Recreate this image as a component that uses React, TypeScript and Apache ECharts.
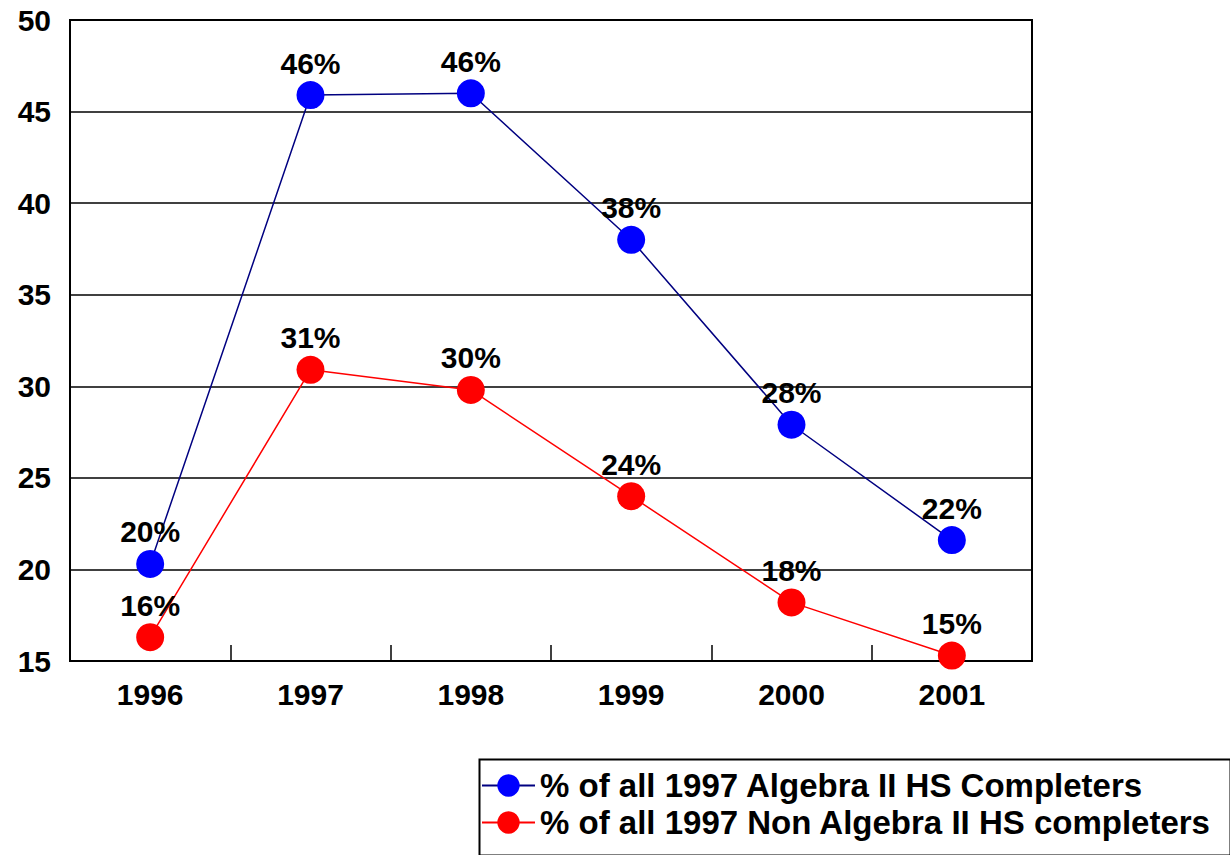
import React, { useEffect, useRef } from "react";
import * as echarts from "echarts";

const years = ["1996", "1997", "1998", "1999", "2000", "2001"];
const algebraII = [20.3, 45.9, 46.0, 38.0, 27.9, 21.6];
const nonAlgebraII = [16.3, 30.9, 29.8, 24.0, 18.2, 15.3];
const seriesNames = [
  "% of all 1997 Algebra II HS Completers",
  "% of all 1997 Non Algebra II HS completers",
];
const yMin = 15;
const yMax = 50;
const yStep = 5;

const FONT = "'Liberation Sans', Arial, sans-serif";

export default function App() {
  const ref = useRef<HTMLDivElement>(null);
  useEffect(() => {
    if (!ref.current) return;
    const chart = echarts.init(ref.current, undefined, { renderer: "svg" });
    const label = {
      show: true,
      position: "top",
      distance: 3,
      color: "#000",
      fontWeight: "bold",
      fontSize: 30,
      fontFamily: FONT,
      formatter: (p: any) => Math.round(p.value) + "%",
    };
    chart.setOption({
      animation: false,
      backgroundColor: "#fff",
      textStyle: { fontFamily: FONT },
      grid: {
        left: 70,
        top: 20,
        right: 198,
        bottom: 194,
        show: true,
        borderColor: "#000",
        borderWidth: 2,
        backgroundColor: "transparent",
      },
      xAxis: {
        type: "category",
        data: years,
        boundaryGap: true,
        axisLine: { show: true, lineStyle: { color: "#000", width: 2 } },
        axisTick: {
          show: true,
          inside: true,
          length: 16,
          lineStyle: { color: "#000", width: 1.5 },
        },
        axisLabel: {
          color: "#000",
          fontWeight: "bold",
          fontSize: 30,
          fontFamily: FONT,
          margin: 18,
        },
        splitLine: { show: false },
      },
      yAxis: {
        type: "value",
        min: yMin,
        max: yMax,
        interval: yStep,
        axisLine: { show: true, lineStyle: { color: "#000", width: 2 } },
        axisTick: { show: false },
        axisLabel: {
          color: "#000",
          fontWeight: "bold",
          fontSize: 30,
          fontFamily: FONT,
          margin: 19,
        },
        splitLine: { show: true, lineStyle: { color: "#000", width: 1.5 } },
      },
      legend: {
        orient: "vertical",
        left: 481,
        top: 769,
        padding: 0,
        itemWidth: 53,
        itemHeight: 28,
        itemGap: 4,
        textStyle: {
          color: "#000",
          fontWeight: "bold",
          fontSize: 33,
          fontFamily: FONT,
        },
        data: seriesNames,
      },
      graphic: [
        {
          type: "rect",
          left: 477,
          top: 757,
          shape: { width: 751, height: 96 },
          style: { fill: "none", stroke: "#000", lineWidth: 2 },
          silent: true,
        },
      ],
      series: [
        {
          name: seriesNames[0],
          type: "line",
          data: algebraII,
          symbol: "circle",
          symbolSize: 28,
          lineStyle: { color: "#000080", width: 1.5 },
          itemStyle: { color: "#0000ff" },
          label,
          z: 3,
        },
        {
          name: seriesNames[1],
          type: "line",
          data: nonAlgebraII,
          symbol: "circle",
          symbolSize: 28,
          lineStyle: { color: "#ff0000", width: 1.5 },
          itemStyle: { color: "#ff0000" },
          label,
          z: 3,
        },
      ],
    });
    return () => chart.dispose();
  }, []);
  return (
    <div
      ref={ref}
      style={{ position: "absolute", left: 0, top: 0, width: 1230, height: 855 }}
    />
  );
}
